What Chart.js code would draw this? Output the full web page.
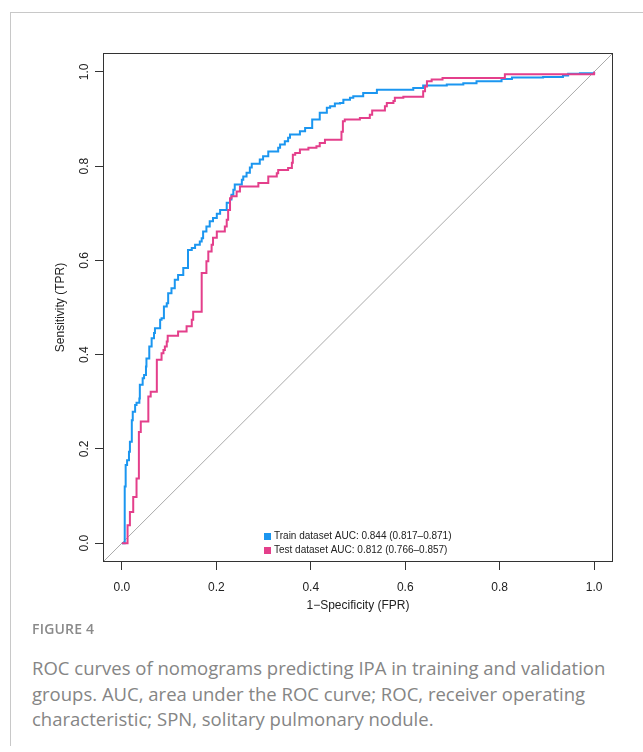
<!DOCTYPE html>
<html>
<head>
<meta charset="utf-8">
<script src="https://cdn.jsdelivr.net/npm/chart.js@4.4.1/dist/chart.umd.min.js"></script>
<style>
  html, body { margin: 0; padding: 0; background: #fff; }
  body { width: 643px; height: 752px; position: relative; overflow: hidden; }
  .card { position: absolute; left: 10px; top: 12px; width: 700px; height: 733px;
          border-top: 1px solid #c8c8c8; border-left: 1px solid #c8c8c8; }
  #roc { position: absolute; left: 0; top: 0; }
  .fig-no { position: absolute; left: 32px; top: 619px; font-family: "Open Sans", sans-serif;
            font-size: 14px; font-weight: 600; color: #8a8a8a; letter-spacing: 0.2px; }
  .fig-cap { position: absolute; left: 32px; top: 655px; width: 605px; font-family: "Open Sans", sans-serif;
             font-size: 18.5px; line-height: 25.5px; color: #858585; }
</style>
</head>
<body>
<div class="card"></div>
<canvas id="roc" width="643" height="630"></canvas>
<div class="fig-no">FIGURE 4</div>
<div class="fig-cap">ROC curves of nomograms predicting IPA in training and validation groups. AUC, area under the ROC curve; ROC, receiver operating characteristic; SPN, solitary pulmonary nodule.</div>
<script>
// ROC coordinates: each point ends a horizontal run of the staircase
const trainFpr = [0, 0.002, 0.006, 0.008, 0.011, 0.015, 0.017, 0.021, 0.023, 0.028, 0.031, 0.037, 0.038,
  0.044, 0.047, 0.051, 0.052, 0.058, 0.063, 0.068, 0.070, 0.081, 0.084, 0.089, 0.095, 0.098, 0.105,
  0.112, 0.119, 0.130, 0.140, 0.148, 0.155, 0.165, 0.169, 0.172, 0.179, 0.186, 0.193, 0.201, 0.208,
  0.222, 0.229, 0.232, 0.236, 0.239, 0.254, 0.257, 0.264, 0.271, 0.275, 0.292, 0.299, 0.310, 0.331,
  0.335, 0.345, 0.352, 0.356, 0.377, 0.388, 0.403, 0.419, 0.434, 0.441, 0.451, 0.462, 0.469, 0.483,
  0.490, 0.511, 0.540, 0.617, 0.638, 0.688, 0.723, 0.751, 0.804, 0.826, 0.892, 0.934, 0.945, 0.970, 1]
const trainTpr = [0, 0, 0.120, 0.166, 0.176, 0.194, 0.215, 0.261, 0.279, 0.293, 0.298, 0.307, 0.336,
  0.350, 0.357, 0.375, 0.392, 0.417, 0.435, 0.446, 0.456, 0.474, 0.477, 0.502, 0.509, 0.530, 0.541,
  0.559, 0.569, 0.584, 0.622, 0.626, 0.633, 0.640, 0.647, 0.661, 0.672, 0.683, 0.690, 0.699, 0.707,
  0.722, 0.729, 0.739, 0.750, 0.761, 0.771, 0.778, 0.786, 0.797, 0.805, 0.814, 0.821, 0.831, 0.839,
  0.846, 0.853, 0.860, 0.867, 0.874, 0.881, 0.899, 0.913, 0.924, 0.927, 0.933, 0.934, 0.941, 0.945,
  0.948, 0.955, 0.962, 0.966, 0.971, 0.973, 0.976, 0.980, 0.985, 0.988, 0.989, 0.992, 0.996, 0.997, 1]

const testFpr = [0, 0.012, 0.017, 0.024, 0.031, 0.036, 0.040, 0.056, 0.061, 0.074, 0.084, 0.088, 0.091,
  0.095, 0.097, 0.119, 0.137, 0.148, 0.151, 0.169, 0.179, 0.183, 0.190, 0.193, 0.201, 0.218, 0.222,
  0.225, 0.229, 0.232, 0.243, 0.250, 0.289, 0.310, 0.328, 0.331, 0.352, 0.360, 0.362, 0.367, 0.377,
  0.395, 0.412, 0.419, 0.430, 0.465, 0.468, 0.472, 0.504, 0.525, 0.530, 0.557, 0.561, 0.575, 0.578,
  0.596, 0.638, 0.642, 0.646, 0.656, 0.679, 0.811, 1]
const testTpr = [0, 0.038, 0.066, 0.098, 0.137, 0.236, 0.258, 0.311, 0.321, 0.389, 0.403, 0.410, 0.417,
  0.428, 0.440, 0.449, 0.460, 0.474, 0.491, 0.573, 0.598, 0.619, 0.633, 0.648, 0.661, 0.672, 0.686,
  0.707, 0.732, 0.736, 0.746, 0.757, 0.764, 0.778, 0.785, 0.792, 0.796, 0.807, 0.824, 0.828, 0.835,
  0.839, 0.842, 0.849, 0.856, 0.873, 0.895, 0.899, 0.902, 0.909, 0.918, 0.927, 0.934, 0.938, 0.945,
  0.947, 0.959, 0.969, 0.980, 0.984, 0.987, 0.995, 1]

// chance line runs corner to corner of the plot region
const chanceLine = [-0.04, 1.04]
const axisTicks = [0, 0.2, 0.4, 0.6, 0.8, 1.0]
const seriesNames = ['Train dataset AUC: 0.844 (0.817\u20130.871)', 'Test dataset AUC: 0.812 (0.766\u20130.857)']
const seriesColors = ['#1b96f0', '#e43f8b']

const FONT = '"Liberation Sans", Arial, sans-serif'
const INK = '#222'

const toXY = (xs, ys) => xs.map((x, i) => ({ x, y: ys[i] }))

// box, rotated y tick labels and the inset legend
const rocDecor = {
  id: 'rocDecor',
  afterDraw(chart) {
    const { ctx, chartArea: a, scales: { x, y } } = chart
    ctx.save()
    ctx.strokeStyle = '#333'
    ctx.lineWidth = 1
    ctx.strokeRect(Math.round(a.left) + 0.5, Math.round(a.top) + 0.5,
      Math.round(a.right - a.left) - 1, Math.round(a.bottom - a.top) - 1)

    ctx.fillStyle = INK
    ctx.font = '12px ' + FONT
    ctx.textAlign = 'center'
    ctx.textBaseline = 'middle'
    axisTicks.forEach(v => {
      ctx.save()
      ctx.translate(85, y.getPixelForValue(v))
      ctx.rotate(-Math.PI / 2)
      ctx.fillText(v.toFixed(1), 0, 0)
      ctx.restore()
    })

    const lx = x.getPixelForValue(0.300)
    const ly = y.getPixelForValue(0.015)
    ctx.font = '10px ' + FONT
    ctx.textAlign = 'left'
    seriesNames.forEach((name, i) => {
      const cy = Math.round(ly + i * 13.5)
      ctx.fillStyle = seriesColors[i]
      ctx.fillRect(Math.round(lx), cy - 3, 7, 7)
      ctx.fillStyle = INK
      ctx.fillText(name, Math.round(lx) + 10, cy + 0.5)
    })
    ctx.restore()
  }
}

new Chart(document.getElementById('roc'), {
  type: 'line',
  data: {
    datasets: [
      { label: seriesNames[1], data: toXY(testFpr, testTpr), borderColor: seriesColors[1],
        borderWidth: 2, stepped: 'before', pointRadius: 0, order: 0 },
      { label: seriesNames[0], data: toXY(trainFpr, trainTpr), borderColor: seriesColors[0],
        borderWidth: 2, stepped: 'before', pointRadius: 0, order: 1 },
      { label: 'chance', data: toXY(chanceLine, chanceLine), borderColor: '#aaaaaa',
        borderWidth: 1, pointRadius: 0, order: 2 }
    ]
  },
  options: {
    responsive: false,
    animation: false,
    devicePixelRatio: 1,
    layout: { padding: { left: 0, top: 53, right: 30, bottom: 0 } },
    plugins: { legend: { display: false }, tooltip: { enabled: false } },
    scales: {
      x: {
        type: 'linear', min: -0.04, max: 1.04,
        afterBuildTicks: s => { s.ticks = axisTicks.map(v => ({ value: v })) },
        afterFit: s => { s.height = 68 },
        grid: { drawOnChartArea: false, tickLength: 8, tickColor: '#333', color: '#333' },
        border: { display: false },
        ticks: { callback: v => v.toFixed(1), font: { family: FONT, size: 12 }, color: INK,
          padding: 10, maxRotation: 0, autoSkip: false },
        title: { display: true, text: '1\u2212Specificity (FPR)', color: INK,
          font: { family: FONT, size: 12 }, padding: { top: 0, bottom: 17 } }
      },
      y: {
        type: 'linear', min: -0.04, max: 1.04,
        afterBuildTicks: s => { s.ticks = axisTicks.map(v => ({ value: v })) },
        afterFit: s => { s.width = 103 },
        grid: { drawOnChartArea: false, tickLength: 8, tickColor: '#333', color: '#333' },
        border: { display: false },
        ticks: { display: false },
        title: { display: true, text: 'Sensitivity (TPR)', color: INK,
          font: { family: FONT, size: 12 }, padding: { top: 53, bottom: 0 } }
      }
    }
  },
  plugins: [rocDecor]
})
</script>
</body>
</html>
